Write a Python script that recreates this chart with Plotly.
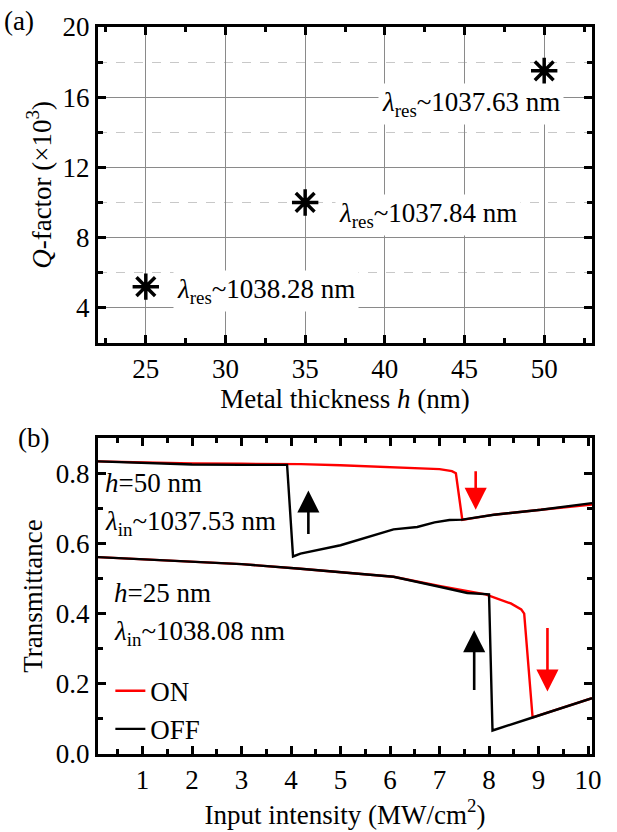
import plotly.graph_objects as go
from plotly.subplots import make_subplots

# ---- Panel (a) data ----
thickness = [25, 35, 50]
q_factor = [5.2, 10.0, 17.5]
res_labels = ["1038.28", "1037.84", "1037.63"]

# ---- Panel (b) data ----
h50_on_x = [0.1, 1.0, 2.0, 3.0, 4.2, 5.0, 6.0, 6.6, 7.0, 7.25, 7.33, 7.46, 8.1, 9.05, 10.08]
h50_on_y = [0.834, 0.831, 0.828, 0.827, 0.826, 0.823, 0.818, 0.815, 0.812, 0.806, 0.800, 0.667, 0.682, 0.696, 0.711]
h50_off_x = [0.1, 1.0, 2.0, 3.0, 3.92, 4.04, 4.19, 5.0, 5.6, 6.07, 6.55, 6.9, 7.2, 7.46, 8.1, 9.05, 10.08]
h50_off_y = [0.834, 0.830, 0.825, 0.824, 0.824, 0.563, 0.571, 0.595, 0.620, 0.640, 0.647, 0.660, 0.667, 0.668, 0.682, 0.696, 0.715]

h25_on_x = [0.1, 1.0, 2.0, 3.0, 4.19, 5.0, 6.07, 7.02, 7.56, 7.93, 8.44, 8.65, 8.71, 8.88, 10.08]
h25_on_y = [0.561, 0.555, 0.549, 0.541, 0.528, 0.519, 0.505, 0.478, 0.465, 0.455, 0.429, 0.412, 0.400, 0.104, 0.159]
h25_off_x = [0.1, 1.0, 2.0, 3.0, 4.19, 5.0, 6.07, 7.02, 7.56, 8.0, 8.07, 8.88, 10.08]
h25_off_y = [0.561, 0.555, 0.549, 0.541, 0.528, 0.519, 0.505, 0.476, 0.459, 0.455, 0.067, 0.104, 0.159]

# arrows: (x, y_tail, y_head, color)
arrows = [
    (4.35, 0.623, 0.751, "black"),
    (7.73, 0.810, 0.696, "red"),
    (7.70, 0.178, 0.353, "black"),
    (9.18, 0.363, 0.178, "red"),
]

FONT = "Liberation Serif"
FS = 27

fig = make_subplots(rows=2, cols=1, vertical_spacing=0.1312)

fig.add_trace(go.Scatter(
    x=thickness, y=q_factor, mode="markers",
    marker=dict(symbol="asterisk-open", size=22, color="black",
                line=dict(color="black", width=3.5)),
    showlegend=False), row=1, col=1)

fig.add_trace(go.Scatter(x=h50_on_x, y=h50_on_y, mode="lines",
                         line=dict(color="red", width=2.4), name="ON",
                         legendgroup="on", showlegend=True), row=2, col=1)
fig.add_trace(go.Scatter(x=h25_on_x, y=h25_on_y, mode="lines",
                         line=dict(color="red", width=2.4), name="ON",
                         legendgroup="on", showlegend=False), row=2, col=1)
fig.add_trace(go.Scatter(x=h50_off_x, y=h50_off_y, mode="lines",
                         line=dict(color="black", width=2.4), name="OFF",
                         legendgroup="off", showlegend=True), row=2, col=1)
fig.add_trace(go.Scatter(x=h25_off_x, y=h25_off_y, mode="lines",
                         line=dict(color="black", width=2.4), name="OFF",
                         legendgroup="off", showlegend=False), row=2, col=1)

axis_common = dict(
    showline=True, linecolor="black", linewidth=3, mirror="allticks",
    ticks="inside", ticklen=8, tickwidth=3, tickcolor="black",
    tickfont=dict(family=FONT, size=FS, color="black"), zeroline=False,
)

fig.update_xaxes(**axis_common, range=[22, 53], tickmode="array",
                 tickvals=[25, 30, 35, 40, 45, 50],
                 showgrid=True, gridcolor="#8a8a8a", gridwidth=1.3,
                 minor=dict(ticks="inside", ticklen=5, tickwidth=2.5, dtick=2.5,
                            tick0=0, tickcolor="black", showgrid=False),
                 title=dict(text="Metal thickness <i>h</i> (nm)",
                            font=dict(family=FONT, size=FS, color="black"), standoff=1),
                 row=1, col=1)
fig.update_yaxes(**axis_common, range=[2, 20], tickmode="array",
                 tickvals=[4, 8, 12, 16, 20],
                 showgrid=True, gridcolor="#8a8a8a", gridwidth=1.3,
                 minor=dict(ticks="inside", ticklen=5, tickwidth=2.5, dtick=2,
                            tick0=0, tickcolor="black", showgrid=True,
                            gridcolor="#c8c8c8", griddash="dash", gridwidth=1),
                 title=dict(text="<i>Q</i>-factor (×10<sup>3</sup>)",
                            font=dict(family=FONT, size=FS, color="black"), standoff=4),
                 row=1, col=1)

fig.update_xaxes(**axis_common, range=[0.1, 10.08], tickmode="array",
                 tickvals=[1, 2, 3, 4, 5, 6, 7, 8, 9, 10], showgrid=False,
                 minor=dict(ticks="inside", ticklen=5, tickwidth=2.5, dtick=0.5,
                            tick0=0, tickcolor="black"),
                 title=dict(text="Input intensity (MW/cm<sup>2</sup>)",
                            font=dict(family=FONT, size=FS, color="black"), standoff=1),
                 row=2, col=1)
fig.update_yaxes(**axis_common, range=[0, 0.9], tickmode="array",
                 tickvals=[0.0, 0.2, 0.4, 0.6, 0.8],
                 ticktext=["0.0", "0.2", "0.4", "0.6", "0.8"], showgrid=False,
                 minor=dict(ticks="inside", ticklen=5, tickwidth=2.5, dtick=0.1,
                            tick0=0, tickcolor="black"),
                 title=dict(text="Transmittance",
                            font=dict(family=FONT, size=FS, color="black"), standoff=6),
                 row=2, col=1)

annotations = []
# panel (a) labels
res_pos = [(26.7, 4.97), (36.9, 9.3), (39.6, 15.6)]
for (ax_, ay_), lab in zip(res_pos, res_labels):
    annotations.append(dict(
        x=ax_, y=ay_, xref="x", yref="y", xanchor="left", yanchor="middle",
        text=f"<i>λ</i><sub>res</sub>~{lab} nm", showarrow=False,
        bgcolor="white", borderpad=3,
        font=dict(family=FONT, size=FS, color="black")))

# panel (b) text labels
b_texts = [
    (0.2, 0.771, "<i>h</i>=50 nm"),
    (0.2, 0.657, "<i>λ</i><sub>in</sub>~1037.53 nm"),
    (0.38, 0.458, "<i>h</i>=25 nm"),
    (0.38, 0.345, "<i>λ</i><sub>in</sub>~1038.08 nm"),
]
for tx, ty, tt in b_texts:
    annotations.append(dict(
        x=tx, y=ty, xref="x2", yref="y2", xanchor="left", yanchor="middle",
        text=tt, showarrow=False,
        font=dict(family=FONT, size=FS, color="black")))

for axx, y0, y1, col in arrows:
    annotations.append(dict(
        x=axx, y=y1, ax=axx, ay=y0, xref="x2", yref="y2", axref="x2", ayref="y2",
        text="", showarrow=True, arrowhead=2, arrowsize=1.7, arrowwidth=2.6,
        arrowcolor=col))

annotations.append(dict(x=-0.195, y=1.008, xref="paper", yref="paper",
                        xanchor="left", yanchor="middle", text="(a)", showarrow=False,
                        font=dict(family=FONT, size=FS, color="black")))
annotations.append(dict(x=-0.165, y=0.435, xref="paper", yref="paper",
                        xanchor="left", yanchor="middle", text="(b)", showarrow=False,
                        font=dict(family=FONT, size=FS, color="black")))

fig.update_layout(
    width=617, height=832,
    margin=dict(l=98, r=25, t=22, b=78),
    paper_bgcolor="white", plot_bgcolor="white",
    font=dict(family=FONT, size=FS, color="black"),
    annotations=annotations,
    legend=dict(x=0.025, y=0.12, xanchor="left", yanchor="top",
                bgcolor="rgba(0,0,0,0)", font=dict(family=FONT, size=FS, color="black"),
                tracegroupgap=0),
)

fig.write_html("out.html")
